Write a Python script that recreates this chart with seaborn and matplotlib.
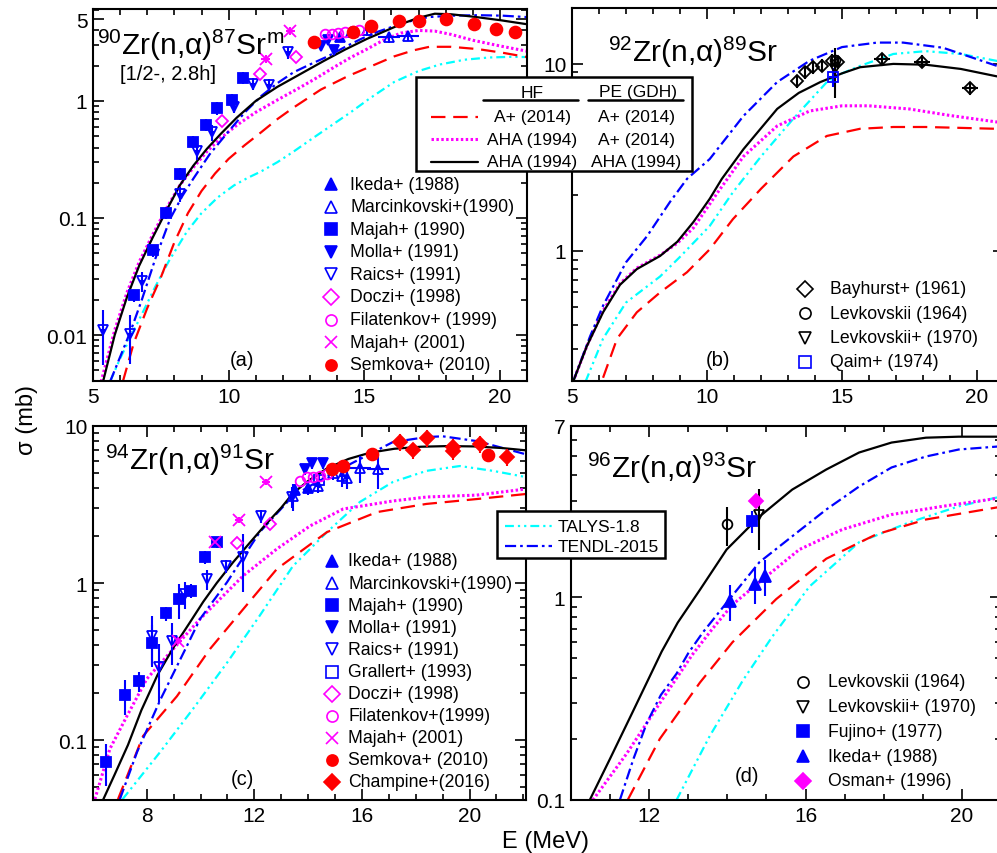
import numpy as np
import matplotlib.pyplot as plt
from matplotlib.lines import Line2D
from matplotlib.patches import Rectangle
from matplotlib.ticker import MultipleLocator, LogLocator, NullFormatter
import seaborn as sns

W, H = 997, 854

# ---------------- panel (a): 90Zr(n,a)87Srm ----------------
a_hf_E = [6.1, 6.5, 7.0, 7.5, 8.0, 8.5, 9.0, 9.5, 10, 10.6, 11.2, 11.8, 12.4, 13.4, 14.4, 15.3, 16.1, 16.8, 17.4, 18.2, 19.2, 20.1, 21]
a_hf_s = [0.004, 0.0085, 0.017, 0.031, 0.062, 0.11, 0.17, 0.24, 0.32, 0.42, 0.54, 0.7, 0.88, 1.25, 1.63, 2.0, 2.4, 2.7, 2.9, 2.9, 2.77, 2.58, 2.37]
a_aha_E = [5.3, 5.8, 6.25, 6.7, 7.2, 7.7, 8.2, 8.7, 9.2, 9.7, 10.3, 11, 11.8, 12.65, 13.3, 13.9, 14.5, 15.1, 15.7, 16.35, 17.0, 17.6, 18.2, 19, 20, 21]
a_aha_s = [0.004, 0.011, 0.023, 0.042, 0.072, 0.12, 0.19, 0.27, 0.37, 0.48, 0.62, 0.8, 1.02, 1.31, 1.6, 1.95, 2.35, 2.77, 3.3, 3.8, 4.0, 3.95, 3.7, 3.3, 2.95, 2.66]
a_best_E = [5.37, 5.8, 6.25, 6.7, 7.2, 7.7, 8.2, 8.7, 9.2, 9.7, 10.3, 11, 11.8, 12.65, 13.5, 14.3, 15.1, 15.8, 16.4, 17.0, 17.6, 18.2, 19, 20, 21]
a_best_s = [0.004, 0.01, 0.021, 0.039, 0.068, 0.115, 0.19, 0.28, 0.39, 0.52, 0.72, 1.0, 1.32, 1.7, 2.19, 2.75, 3.39, 3.98, 4.57, 5.13, 5.56, 5.5, 5.25, 4.9, 4.52]
a_talys_E = [5.63, 6.0, 6.4, 6.85, 7.3, 7.8, 8.47, 9.0, 9.6, 10.2, 10.7, 11.2, 11.8, 12.4, 13.1, 13.8, 14.5, 15.2, 16.1, 17.0, 17.8, 18.7, 19.6, 20.4, 21]
a_talys_s = [0.004, 0.0063, 0.0098, 0.0159, 0.026, 0.043, 0.077, 0.11, 0.15, 0.19, 0.22, 0.25, 0.3, 0.37, 0.48, 0.62, 0.8, 1.05, 1.45, 1.8, 2.05, 2.25, 2.35, 2.38, 2.37]
a_tendl_E = [5.63, 6.0, 6.4, 6.8, 7.3, 7.85, 8.3, 8.7, 9.3, 10, 10.6, 11.2, 11.8, 12.4, 13.0, 13.65, 14.3, 14.9, 15.5, 16.1, 16.7, 17.35, 18.2, 19.2, 20.1, 21]
a_tendl_s = [0.004, 0.0065, 0.011, 0.02, 0.045, 0.099, 0.155, 0.217, 0.35, 0.55, 0.8, 1.1, 1.42, 1.76, 2.05, 2.4, 2.9, 3.4, 3.9, 4.35, 4.8, 5.2, 5.35, 5.4, 5.35, 5.2]

a_ikeda_E, a_ikeda_s = [14.1, 14.5], [3.55, 3.85]
a_marc_E, a_marc_s = [14.6, 15.1, 15.9, 16.6], [3.9, 4.0, 3.5, 3.6]
a_marc_dE = [0.1, 0.1, 0.4, 0.4]
a_majah90_E = [6.5, 7.22, 7.7, 8.22, 8.7, 9.18, 9.58, 10.14, 10.54]
a_majah90_s = [0.0218, 0.053, 0.111, 0.239, 0.448, 0.625, 0.87, 1.02, 1.57]
a_molla_E, a_molla_s = [13.4, 13.65, 13.9], [2.95, 3.3, 2.7]
a_raics_E = [5.37, 6.37, 6.8, 8.2, 8.85, 9.4, 10.2, 10.9, 11.5, 12.2]
a_raics_s = [0.011, 0.0102, 0.029, 0.16, 0.37, 0.54, 0.89, 1.4, 1.37, 2.6]
a_raics_err = [0.5, 0.45, 0.2, 0.15, 0.15, 0.15, 0.12, 0.12, 0.12, 0.12]
a_doczi_E, a_doczi_s = [9.75, 11.17, 12.5], [0.67, 1.7, 2.37]
a_filat_E = [13.57, 13.8, 14.05, 14.3, 14.57, 14.8]
a_filat_s = [3.72, 3.72, 3.79, 3.87, 3.95, 4.03]
a_majah01_E, a_majah01_s = [11.36, 12.28], [2.28, 3.94]
a_semkova_E = [13.15, 14.6, 15.24, 16.27, 17.0, 18.0, 19.05, 19.86, 20.55]
a_semkova_s = [3.17, 3.9, 4.4, 4.8, 4.8, 5.0, 4.5, 4.1, 3.87]

# ---------------- panel (b): 92Zr(n,a)89Sr ----------------
b_hf_E = [6.15, 6.67, 7.4, 8.26, 9.26, 10.1, 10.96, 12.0, 13.2, 14.44, 15.67, 16.9, 18.1, 19.4, 20.7, 21]
b_hf_s = [0.21, 0.34, 0.47, 0.6, 0.77, 1.02, 1.48, 2.15, 3.2, 4.12, 4.5, 4.6, 4.6, 4.55, 4.5, 4.5]
b_aha_E = [5.04, 5.55, 6.15, 6.78, 7.4, 8.26, 8.9, 9.5, 10.4, 11.35, 12.6, 13.8, 15.0, 16.0, 17.5, 19.0, 20.7, 21]
b_aha_s = [0.2, 0.31, 0.48, 0.67, 0.81, 0.95, 1.1, 1.33, 2.06, 3.2, 4.66, 5.6, 5.97, 5.97, 5.74, 5.3, 4.9, 4.85]
b_best_E = [5.04, 5.55, 6.15, 6.78, 7.4, 8.26, 8.9, 9.5, 10.1, 10.55, 11.35, 12.6, 13.4, 14.2, 15.0, 15.67, 16.9, 18.1, 19.4, 20.7, 21]
b_best_s = [0.2, 0.31, 0.47, 0.66, 0.8, 0.94, 1.12, 1.43, 1.9, 2.43, 3.5, 5.75, 7.0, 8.0, 8.9, 9.6, 10.0, 9.9, 9.4, 8.6, 8.45]
b_talys_E = [5.5, 6.15, 7.0, 8.26, 9.0, 10.1, 10.96, 11.35, 12.0, 13.2, 14.44, 15.0, 15.67, 16.9, 18.1, 19.4, 20.7, 21]
b_talys_s = [0.2, 0.34, 0.53, 0.73, 0.93, 1.36, 2.06, 2.43, 3.2, 5.1, 8.0, 8.9, 9.76, 11.3, 11.7, 11.3, 10.4, 10.2]
b_tendl_E = [5.04, 5.67, 6.15, 7.0, 7.78, 8.63, 9.26, 10.1, 11.35, 12.6, 13.8, 15.0, 16.3, 17.26, 18.74, 20.7, 21]
b_tendl_s = [0.2, 0.35, 0.51, 0.87, 1.2, 1.83, 2.43, 3.1, 5.27, 8.0, 10.4, 12.3, 13.0, 13.0, 12.2, 9.8, 9.5]

b_bay_E = [13.33, 13.63, 13.93, 14.26, 14.63, 14.85, 16.48, 17.96, 19.74]
b_bay_s = [8.1, 9.0, 9.6, 9.8, 10.4, 10.2, 10.6, 10.3, 7.45]
b_bay_dE = [0, 0, 0, 0, 0, 0, 0.3, 0.3, 0.3]
b_levk64_E, b_levk64_s = [14.75], [10.5]
b_levk70_E, b_levk70_s = [14.74], [9.4]
b_qaim_E, b_qaim_s = [14.67], [8.5]

# ---------------- panel (c): 94Zr(n,a)91Sr ----------------
c_hf_E = [6.93, 7.86, 9.12, 10.35, 11.58, 12.84, 14.7, 16.56, 18.4, 20.3, 22.1]
c_hf_s = [0.042, 0.106, 0.19, 0.38, 0.68, 1.23, 2.11, 2.83, 3.19, 3.43, 3.69]
c_aha_E = [6.07, 6.63, 7.26, 8.0, 8.86, 9.98, 11.58, 12.84, 14.07, 15.3, 17.15, 18.4, 20.27, 22.1]
c_aha_s = [0.042, 0.088, 0.142, 0.245, 0.36, 0.59, 1.11, 1.65, 2.31, 2.96, 3.33, 3.53, 3.63, 3.97]
c_best_E = [6.3, 6.8, 7.3, 7.8, 8.4, 9.0, 9.6, 10.1, 10.6, 11.2, 11.8, 12.4, 13.0, 13.43, 14.0, 14.7, 15.5, 16.3, 17.2, 18.2, 19.2, 20.2, 21.2, 22.1]
c_best_s = [0.039, 0.06, 0.093, 0.155, 0.26, 0.39, 0.56, 0.76, 1.0, 1.35, 1.78, 2.34, 3.02, 3.72, 4.47, 5.37, 6.17, 6.76, 7.16, 7.38, 7.45, 7.41, 7.24, 7.0]
c_talys_E = [7.1, 8.5, 9.72, 10.98, 12.2, 13.43, 14.7, 15.92, 17.15, 18.4, 19.64, 20.87, 22.1]
c_talys_s = [0.042, 0.084, 0.158, 0.31, 0.62, 1.28, 2.11, 3.28, 4.4, 5.18, 5.56, 5.18, 4.73]
c_tendl_E = [7.0, 7.64, 8.5, 9.5, 9.98, 10.98, 12.2, 13.43, 14.7, 15.92, 17.15, 18.4, 19.0, 20.3, 22.1]
c_tendl_s = [0.042, 0.084, 0.18, 0.4, 0.59, 1.01, 2.11, 3.58, 4.8, 6.15, 7.9, 8.5, 8.6, 8.0, 6.6]

c_ikeda_E, c_ikeda_s = [13.5, 14.0], [3.9, 4.05]
c_marc_E = [13.43, 14.36, 14.92, 15.26, 15.44, 15.92, 16.6]
c_marc_s = [3.58, 4.15, 5.0, 4.8, 4.66, 5.4, 5.3]
c_marc_dE = [0.1, 0.1, 0.1, 0.1, 0.1, 0.4, 0.4]
c_marc_err = [0.2, 0.1, 0.1, 0.15, 0.15, 0.2, 0.25]
c_majah90_E = [6.5, 7.2, 7.72, 8.2, 8.7, 9.2, 9.64, 10.16, 10.6]
c_majah90_s = [0.0725, 0.193, 0.237, 0.415, 0.64, 0.79, 0.89, 1.46, 1.82]
c_majah90_err = [0.3, 0.25, 0.15, 0.3, 0.1, 0.25, 0.1, 0.1, 0.08]
c_molla_E, c_molla_s = [13.88, 14.14, 14.55], [5.3, 5.8, 5.8]
c_raics_E = [8.2, 8.45, 8.94, 9.42, 10.24, 10.95, 11.58, 12.25, 13.4]
c_raics_s = [0.46, 0.29, 0.43, 0.85, 1.06, 1.28, 1.46, 2.67, 3.53]
c_raics_err = [0.35, 0.4, 0.3, 0.2, 0.15, 0.1, 0.4, 0.1, 0.15]
c_grallert_E, c_grallert_s = [14.4], [4.5]
c_doczi_E, c_doczi_s = [11.35, 12.58], [1.8, 2.37]
c_filat_E = [13.7, 13.95, 14.18, 14.44, 14.7]
c_filat_s = [4.46, 4.73, 4.73, 4.8, 4.94]
c_majah01_E, c_majah01_s = [9.16, 10.54, 11.43, 12.43], [0.43, 1.82, 2.52, 4.4]
c_semkova_E, c_semkova_s = [14.88, 15.3, 16.37, 20.68], [5.3, 5.56, 6.63, 6.54]
c_champ_E = [17.4, 17.9, 18.42, 19.4, 19.4, 20.4, 21.4]
c_champ_s = [7.9, 7.0, 8.4, 7.4, 6.9, 7.7, 6.35]

# ---------------- panel (d): 96Zr(n,a)93Sr ----------------
d_hf_E = [11.45, 12.27, 13.3, 14.13, 15.25, 16.53, 17.8, 19.08, 20.87, 21]
d_hf_s = [0.1, 0.2, 0.38, 0.6, 0.98, 1.55, 2.04, 2.42, 2.77, 2.8]
d_aha_E = [10.56, 11.43, 12.27, 13.1, 13.62, 14.13, 15.0, 15.84, 16.94, 18.2, 19.5, 20.87, 21]
d_aha_s = [0.1, 0.17, 0.3, 0.52, 0.7, 0.92, 1.27, 1.72, 2.16, 2.56, 2.81, 3.07, 3.09]
d_best_E = [10.48, 11.0, 11.57, 12.32, 12.73, 13.3, 13.98, 14.82, 15.66, 16.53, 17.37, 18.2, 19.08, 19.92, 21]
d_best_s = [0.1, 0.16, 0.27, 0.54, 0.75, 1.09, 1.72, 2.5, 3.4, 4.27, 5.18, 5.8, 6.13, 6.2, 6.2]
d_talys_E = [12.7, 13.55, 14.4, 15.15, 16.1, 17.37, 18.65, 19.92, 20.87, 21]
d_talys_s = [0.1, 0.207, 0.39, 0.64, 1.13, 1.87, 2.34, 2.81, 3.1, 3.13]
d_tendl_E = [11.25, 11.6, 11.94, 12.3, 12.7, 13.0, 13.37, 13.98, 14.82, 15.66, 16.53, 17.37, 18.2, 19.08, 19.92, 21]
d_tendl_s = [0.1, 0.16, 0.24, 0.33, 0.42, 0.53, 0.67, 0.94, 1.49, 2.0, 2.71, 3.52, 4.37, 4.95, 5.36, 5.56]

d_levk64_E, d_levk64_s = [14.0], [2.29]
d_levk70_E, d_levk70_s = [14.8], [2.56]
d_fujino_E, d_fujino_s = [14.62], [2.37]
d_ikeda_E, d_ikeda_s = [14.06, 14.7, 14.95], [0.96, 1.16, 1.27]
d_osman_E, d_osman_s = [14.72], [2.97]

# ---------------- style ----------------
sns.set_theme(style="ticks", rc={
    "axes.edgecolor": "black", "xtick.color": "black", "ytick.color": "black",
    "text.color": "black", "axes.labelcolor": "black",
    "xtick.direction": "in", "ytick.direction": "in",
})
plt.rcParams["font.family"] = ["Liberation Sans", "DejaVu Sans"]
plt.rcParams["mathtext.fontset"] = "custom"
plt.rcParams["mathtext.rm"] = "Liberation Sans"
plt.rcParams["mathtext.it"] = "Liberation Sans:italic"
plt.rcParams["mathtext.bf"] = "Liberation Sans:bold"

RED, MAG, BLU, CYA, BLK = "#FF0000", "#FF00FF", "#0000FF", "#00FFFF", "black"
models = {
    "hf": dict(color=RED, linestyle=(0, (6.5, 3.5)), linewidth=1.6),
    "aha": dict(color=MAG, linestyle=(0, (0.8, 0.8)), linewidth=2.2),
    "best": dict(color=BLK, linestyle="-", linewidth=1.6),
    "talys": dict(color=CYA, linestyle=(0, (4, 1.8, 1, 1.8, 1, 1.8)), linewidth=1.6),
    "tendl": dict(color=BLU, linestyle=(0, (5, 1.8, 1.2, 1.8)), linewidth=1.6),
}

fig = plt.figure(figsize=(W / 100, H / 100), dpi=100)


def add_ax(left, top, right, bottom):
    return fig.add_axes([left / W, 1 - bottom / H, (right - left) / W, (bottom - top) / H])


def setup(ax, xlim, ylim, xmaj, ymaj, ylab):
    ax.set_yscale("log")
    ax.set_xlim(*xlim)
    ax.set_ylim(*ylim)
    ax.set_xticks(xmaj)
    ax.set_xticklabels([str(v) for v in xmaj])
    ax.xaxis.set_minor_locator(MultipleLocator(1))
    ax.set_yticks(ymaj)
    ax.set_yticklabels(ylab)
    ax.yaxis.set_minor_locator(LogLocator(base=10, subs=np.arange(2, 10)))
    ax.yaxis.set_minor_formatter(NullFormatter())
    ax.tick_params(which="both", direction="in", top=True, right=True, labelsize=15, width=1.2, pad=4)
    ax.tick_params(which="major", length=8)
    ax.tick_params(which="minor", length=4)
    for sp in ax.spines.values():
        sp.set_linewidth(1.5)
        sp.set_color("black")
    ax.set_xlabel("")
    ax.set_ylabel("")


def curves(ax, sets):
    for E, s, key in sets:
        sns.lineplot(x=E, y=s, ax=ax, legend=False, estimator=None, **models[key])


def points(ax, E, s, marker, color, filled=True, rel=0.1, dE=0.12, ms=7):
    E = np.asarray(E, float)
    s = np.asarray(s, float)
    ax.errorbar(E, s, yerr=np.asarray(rel) * s, xerr=dE, fmt=marker, color=color,
                mfc=color if filled else "none", mec=color, ms=ms, mew=1.3,
                elinewidth=1.5, capsize=0, zorder=5)


def legend_rows(xm, xt, y0, dy, rows, fs=12.7):
    for i, (label, marker, color, filled) in enumerate(rows):
        y = 1 - (y0 + i * dy) / H
        fig.add_artist(Line2D([xm / W], [y], marker=marker, color=color, linestyle="none",
                              mfc=color if filled else "none", mec=color, ms=8, mew=1.2))
        fig.text(xt / W, y, label, fontsize=fs, va="center", ha="left")


# ---- (a)
axa = add_ax(93, 10, 527, 382)
setup(axa, (5, 21), (0.00405, 6.1), [5, 10, 15, 20], [0.01, 0.1, 1, 5], ["0.01", "0.1", "1", "5"])
curves(axa, [(a_talys_E, a_talys_s, "talys"), (a_hf_E, a_hf_s, "hf"), (a_aha_E, a_aha_s, "aha"),
             (a_tendl_E, a_tendl_s, "tendl"), (a_best_E, a_best_s, "best")])
points(axa, a_majah90_E, a_majah90_s, "s", BLU, dE=0.15, rel=0.12)
points(axa, a_raics_E, a_raics_s, "v", BLU, False, rel=a_raics_err, dE=0.1)
points(axa, a_molla_E, a_molla_s, "v", BLU, rel=0.08)
points(axa, a_ikeda_E, a_ikeda_s, "^", BLU, rel=0.08)
points(axa, a_marc_E, a_marc_s, "^", BLU, False, rel=0.1, dE=a_marc_dE)
points(axa, a_doczi_E, a_doczi_s, "D", MAG, False, rel=0.0, dE=0.0, ms=6)
points(axa, a_filat_E, a_filat_s, "o", MAG, False, rel=0.0, dE=0.0)
points(axa, a_majah01_E, a_majah01_s, "x", MAG, rel=0.08, dE=0.15, ms=8)
points(axa, a_semkova_E, a_semkova_s, "o", RED, rel=0.08, dE=0.2, ms=8.5)

# ---- (b)
axb = add_ax(572, 9, 1004, 382)
setup(axb, (5, 21), (0.2018, 19.9), [5, 10, 15, 20], [1, 10], ["1", "10"])
curves(axb, [(b_talys_E, b_talys_s, "talys"), (b_hf_E, b_hf_s, "hf"), (b_aha_E, b_aha_s, "aha"),
             (b_tendl_E, b_tendl_s, "tendl"), (b_best_E, b_best_s, "best")])
points(axb, b_bay_E, b_bay_s, "D", BLK, False, rel=0.08, dE=b_bay_dE, ms=6.5)
points(axb, b_levk64_E, b_levk64_s, "o", BLK, False, rel=0.0, dE=0.0)
points(axb, b_levk70_E, b_levk70_s, "v", BLK, False, rel=0.3, dE=0.0)
points(axb, b_qaim_E, b_qaim_s, "s", BLU, False, rel=0.12, dE=0.15)

# ---- (c)
axc = add_ax(93, 427, 526, 801)
setup(axc, (6, 22.1), (0.0415, 10), [8, 12, 16, 20], [0.1, 1, 10], ["0.1", "1", "10"])
curves(axc, [(c_talys_E, c_talys_s, "talys"), (c_hf_E, c_hf_s, "hf"), (c_aha_E, c_aha_s, "aha"),
             (c_tendl_E, c_tendl_s, "tendl"), (c_best_E, c_best_s, "best")])
points(axc, c_majah90_E, c_majah90_s, "s", BLU, rel=c_majah90_err, dE=0.15)
points(axc, c_raics_E, c_raics_s, "v", BLU, False, rel=c_raics_err, dE=0.0)
points(axc, c_molla_E, c_molla_s, "v", BLU, rel=0.08)
points(axc, c_ikeda_E, c_ikeda_s, "^", BLU, rel=0.1)
points(axc, c_marc_E, c_marc_s, "^", BLU, False, rel=c_marc_err, dE=c_marc_dE)
points(axc, c_grallert_E, c_grallert_s, "s", BLU, False, rel=0.1)
points(axc, c_doczi_E, c_doczi_s, "D", MAG, False, rel=0.0, dE=0.0, ms=6)
points(axc, c_filat_E, c_filat_s, "o", MAG, False, rel=0.0, dE=0.0)
points(axc, c_majah01_E, c_majah01_s, "x", MAG, rel=0.05, dE=0.15, ms=8)
points(axc, c_semkova_E, c_semkova_s, "o", RED, rel=0.08, dE=0.2, ms=8.5)
points(axc, c_champ_E, c_champ_s, "D", RED, rel=0.12, dE=0.2, ms=7.5)

# ---- (d)
axd = add_ax(571, 427, 1001, 801)
setup(axd, (10, 21), (0.1, 6.96), [12, 16, 20], [0.1, 1, 7], ["0.1", "1", "7"])
curves(axd, [(d_talys_E, d_talys_s, "talys"), (d_hf_E, d_hf_s, "hf"), (d_aha_E, d_aha_s, "aha"),
             (d_tendl_E, d_tendl_s, "tendl"), (d_best_E, d_best_s, "best")])
points(axd, d_levk64_E, d_levk64_s, "o", BLK, False, rel=0.22, dE=0.0)
points(axd, d_levk70_E, d_levk70_s, "v", BLK, False, rel=0.33, dE=0.0)
points(axd, d_fujino_E, d_fujino_s, "s", BLU, rel=0.12, dE=0.0)
points(axd, d_ikeda_E, d_ikeda_s, "^", BLU, rel=0.2, dE=0.0, ms=8)
points(axd, d_osman_E, d_osman_s, "D", MAG, rel=0.0, dE=0.0, ms=7)

# ---- titles and labels
title_fs = 21.5
fig.text(97 / W, 1 - 55 / H, r"$^{90}$Zr(n,α)$^{87}$Sr$^{\mathrm{m}}$", fontsize=title_fs, va="baseline")
fig.text(120 / W, 1 - 75 / H, "[1/2-, 2.8h]", fontsize=14.5, va="center")
fig.text(608 / W, 1 - 62 / H, r"$^{92}$Zr(n,α)$^{89}$Sr", fontsize=title_fs, va="baseline")
fig.text(105 / W, 1 - 470 / H, r"$^{94}$Zr(n,α)$^{91}$Sr", fontsize=title_fs, va="baseline")
fig.text(587 / W, 1 - 478 / H, r"$^{96}$Zr(n,α)$^{93}$Sr", fontsize=title_fs, va="baseline")
for lab, x, y in [("(a)", 242, 360), ("(b)", 718, 360), ("(c)", 242, 780), ("(d)", 747, 777)]:
    fig.text(x / W, 1 - y / H, lab, fontsize=14.5, ha="center", va="center")
fig.text(545 / W, 1 - 842 / H, "E (MeV)", fontsize=17, ha="center", va="center")
fig.text(27 / W, 1 - 420 / H, "σ (mb)", fontsize=17, ha="center", va="center", rotation=90)

# ---- legends of the data
legend_rows(331, 350, 185, 22.6, [
    ("Ikeda+ (1988)", "^", BLU, True), ("Marcinkovski+(1990)", "^", BLU, False),
    ("Majah+ (1990)", "s", BLU, True), ("Molla+ (1991)", "v", BLU, True),
    ("Raics+ (1991)", "v", BLU, False), ("Doczi+ (1998)", "D", MAG, False),
    ("Filatenkov+ (1999)", "o", MAG, False), ("Majah+ (2001)", "x", MAG, False),
    ("Semkova+ (2010)", "o", RED, True)])
legend_rows(805, 830, 290, 24.3, [
    ("Bayhurst+ (1961)", "D", BLK, False), ("Levkovskii (1964)", "o", BLK, False),
    ("Levkovskii+ (1970)", "v", BLK, False), ("Qaim+ (1974)", "s", BLU, False)])
legend_rows(332, 348, 562, 22.1, [
    ("Ikeda+ (1988)", "^", BLU, True), ("Marcinkovski+(1990)", "^", BLU, False),
    ("Majah+ (1990)", "s", BLU, True), ("Molla+ (1991)", "v", BLU, True),
    ("Raics+ (1991)", "v", BLU, False), ("Grallert+ (1993)", "s", BLU, False),
    ("Doczi+ (1998)", "D", MAG, False), ("Filatenkov+(1999)", "o", MAG, False),
    ("Majah+ (2001)", "x", MAG, False), ("Semkova+ (2010)", "o", RED, True),
    ("Champine+(2016)", "D", RED, True)])
legend_rows(803, 828, 683, 24.7, [
    ("Levkovskii (1964)", "o", BLK, False), ("Levkovskii+ (1970)", "v", BLK, False),
    ("Fujino+ (1977)", "s", BLU, True), ("Ikeda+ (1988)", "^", BLU, True),
    ("Osman+ (1996)", "D", MAG, True)])

# ---- model legend boxes
fig.add_artist(Rectangle((416 / W, 1 - 172 / H), (692 - 416) / W, (172 - 78) / H,
                         facecolor="white", edgecolor="black", linewidth=1.8, zorder=10))
fig.text(532 / W, 1 - 93 / H, "HF", fontsize=12.5, ha="center", va="center", zorder=11)
fig.text(638 / W, 1 - 93 / H, "PE (GDH)", fontsize=12.5, ha="center", va="center", zorder=11)
fig.add_artist(Line2D([483 / W, 578 / W], [1 - 101 / H] * 2, color="black", lw=1.8, zorder=11))
fig.add_artist(Line2D([588 / W, 683 / W], [1 - 101 / H] * 2, color="black", lw=1.8, zorder=11))
for key, hf_lab, pe_lab, y in [("hf", "A+ (2014)", "A+ (2014)", 118),
                               ("aha", "AHA (1994)", "A+ (2014)", 140),
                               ("best", "AHA (1994)", "AHA (1994)", 163)]:
    fig.add_artist(Line2D([431 / W, 478 / W], [1 - y / H] * 2, zorder=11, **models[key]))
    fig.text(532 / W, 1 - y / H, hf_lab, fontsize=12.5, ha="center", va="center", zorder=11)
    fig.text(636 / W, 1 - y / H, pe_lab, fontsize=12.5, ha="center", va="center", zorder=11)

fig.add_artist(Rectangle((497 / W, 1 - 559 / H), (665 - 497) / W, (559 - 512) / H,
                         facecolor="white", edgecolor="black", linewidth=1.8, zorder=10))
for key, lab, y in [("talys", "TALYS-1.8", 527), ("tendl", "TENDL-2015", 547)]:
    fig.add_artist(Line2D([505 / W, 552 / W], [1 - y / H] * 2, zorder=11, **models[key]))
    fig.text(558 / W, 1 - y / H, lab, fontsize=12.5, ha="left", va="center", zorder=11)

fig.savefig("out.png", dpi=100)
